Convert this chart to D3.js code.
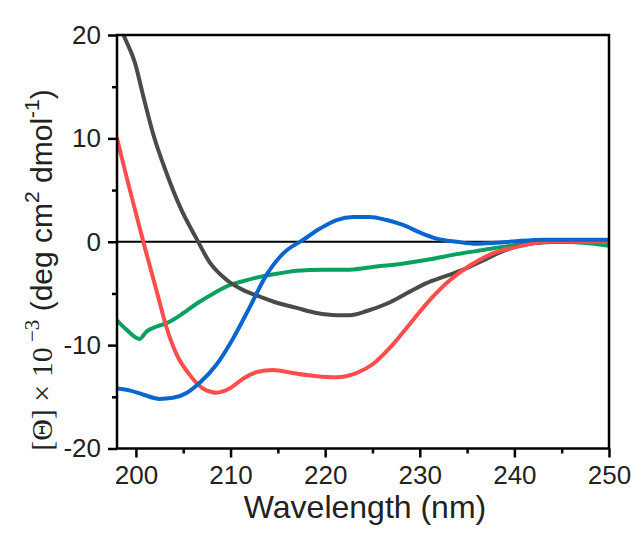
<!DOCTYPE html>
<html><head><meta charset="utf-8">
<script src="https://cdn.jsdelivr.net/npm/d3@7"></script>
<style>body{margin:0;background:#fff}svg{display:block}</style>
</head><body>
<svg id="c" width="642" height="533"></svg>
<script>
const xTicks = [200,210,220,230,240,250];
const yTicks = [-20,-10,0,10,20];
const blackX = [198.3,198.7,199.9,200.8,201.8,203.25,204.7,206.4,207.8,209.6,211.4,213.1,214.9,217,219.1,221.2,222.6,224.4,226.5,229,230.7,232.5,234.6,236.7,238.8,241,243.1,244.8,246.6,250];
const blackY = [21,20,17.3,14.0,10.5,6.6,3.3,0.3,-2.0,-3.7,-4.7,-5.3,-5.9,-6.4,-6.9,-7.1,-7.1,-6.7,-6.0,-4.8,-4.0,-3.4,-2.7,-1.8,-0.9,-0.3,-0.06,0,0,0];
const redX = [198,199,200.1,201.1,202.2,203.2,204.3,205.7,207.1,208.5,209.9,211.4,212.8,214.5,216.6,219.1,221.2,223.3,225.1,226.9,229,231.1,233.2,235.3,237.8,240.2,242.4,244.5,246.6,250];
const redY = [10,6.3,2.4,-1.1,-4.8,-8.2,-10.9,-12.9,-14.2,-14.6,-14.2,-13.2,-12.6,-12.4,-12.7,-13.0,-13.1,-12.7,-11.8,-10.2,-7.9,-5.6,-3.7,-2.3,-1.1,-0.5,-0.1,0.03,0,0];
const greenX = [198,199,200.4,201.1,202.2,203.2,204.7,206.4,208.2,209.9,211.4,213.1,214.9,217,219.8,222.6,225.4,228.3,231.1,233.9,236.7,239.5,242.4,244.8,247.3,250];
const greenY = [-7.6,-8.5,-9.4,-8.7,-8.2,-7.9,-7.1,-6.0,-5.0,-4.2,-3.8,-3.4,-3.1,-2.8,-2.7,-2.7,-2.4,-2.1,-1.7,-1.2,-0.8,-0.4,-0.1,0,-0.1,-0.4];
const blueX = [198,199.4,200.8,202.5,203.9,205.4,206.8,208.5,210.3,212.1,213.8,215.6,217.7,219.5,221.2,223,224.7,226.5,228.3,230,231.8,233.9,236,238.1,240.2,243.1,246.6,250];
const blueY = [-14.2,-14.4,-14.8,-15.2,-15.1,-14.6,-13.6,-11.9,-9.3,-6.2,-3.2,-1.1,0.2,1.3,2.1,2.4,2.4,2.1,1.6,0.9,0.3,0,-0.2,-0.1,0.06,0.2,0.2,0.2];

const series = [
  {x: greenX, y: greenY, color: "#0aa160"},
  {x: blackX, y: blackY, color: "#4a4a4a"},
  {x: redX, y: redY, color: "#ff4d4d"},
  {x: blueX, y: blueY, color: "#0a66cc"}
];

const svg = d3.select("#c");
const L = 117, R = 609, T = 35, B = 448.5;
const x = d3.scaleLinear().domain([198,250]).range([L,R]);
const y = d3.scaleLinear().domain([-20,20]).range([B,T]);
const fmt = d => String(d);

svg.append("defs").append("clipPath").attr("id","clip")
  .append("rect").attr("x",L).attr("y",T).attr("width",R-L).attr("height",B-T);

svg.append("line").attr("x1",L).attr("x2",R).attr("y1",y(0)).attr("y2",y(0))
  .attr("stroke","#000").attr("stroke-width",2);

const line = d3.line().x(d=>x(d[0])).y(d=>y(d[1])).curve(d3.curveMonotoneX);
const g = svg.append("g").attr("clip-path","url(#clip)");
series.forEach(s=>{
  g.append("path").datum(s.x.map((v,i)=>[v,s.y[i]]))
   .attr("d",line).attr("fill","none").attr("stroke",s.color)
   .attr("stroke-width",4).attr("stroke-linejoin","round").attr("stroke-linecap","round");
});

svg.append("rect").attr("x",L).attr("y",T).attr("width",R-L).attr("height",B-T)
  .attr("fill","none").attr("stroke","#000").attr("stroke-width",2.5);

const FS = "Liberation Sans, Arial, sans-serif";
const xa = svg.append("g").attr("transform",`translate(0,${B})`)
  .call(d3.axisBottom(x).tickValues(xTicks).tickSize(9).tickPadding(8).tickFormat(fmt));
xa.select(".domain").remove();
xa.selectAll("line").attr("stroke-width",2.5);
xa.selectAll("text").attr("font-family",FS).attr("font-size",26).attr("fill","#222");
const xm = svg.append("g").attr("transform",`translate(0,${B})`)
  .call(d3.axisBottom(x).tickValues(xTicks.slice(0,-1).map(v=>v+5)).tickSize(5).tickFormat(""));
xm.select(".domain").remove(); xm.selectAll("line").attr("stroke-width",2.5);

const ya = svg.append("g").attr("transform",`translate(${L},0)`)
  .call(d3.axisLeft(y).tickValues(yTicks).tickSize(9).tickPadding(7).tickFormat(fmt));
ya.select(".domain").remove();
ya.selectAll("line").attr("stroke-width",2.5);
ya.selectAll("text").attr("font-family",FS).attr("font-size",26).attr("fill","#222");
const ym = svg.append("g").attr("transform",`translate(${L},0)`)
  .call(d3.axisLeft(y).tickValues(yTicks.slice(0,-1).map(v=>v+5)).tickSize(5).tickFormat(""));
ym.select(".domain").remove(); ym.selectAll("line").attr("stroke-width",2.5);

svg.append("text").attr("x",(L+R)/2+2).attr("y",518).attr("text-anchor","middle")
  .attr("font-family",FS).attr("font-size",32).attr("fill","#222")
  .text("Wavelength (nm)");

const SF = "Liberation Serif, Times New Roman, serif";
const yl = svg.append("text").attr("transform","translate(52,270) rotate(-90)").attr("text-anchor","middle")
  .attr("fill","#222").attr("font-size",30);
yl.append("tspan").attr("font-family",SF).text("[Θ] × 10");
yl.append("tspan").attr("font-family",SF).attr("font-size",21).attr("dy",-13).text(" −3");
yl.append("tspan").attr("font-family",FS).attr("dy",13).text(" (deg cm");
yl.append("tspan").attr("font-family",FS).attr("font-size",21).attr("dy",-13).text("2");
yl.append("tspan").attr("font-family",FS).attr("dy",13).text(" dmol");
yl.append("tspan").attr("font-family",FS).attr("font-size",21).attr("dy",-13).text("-1");
yl.append("tspan").attr("font-family",FS).attr("dy",13).text(")");
</script>
</body></html>
